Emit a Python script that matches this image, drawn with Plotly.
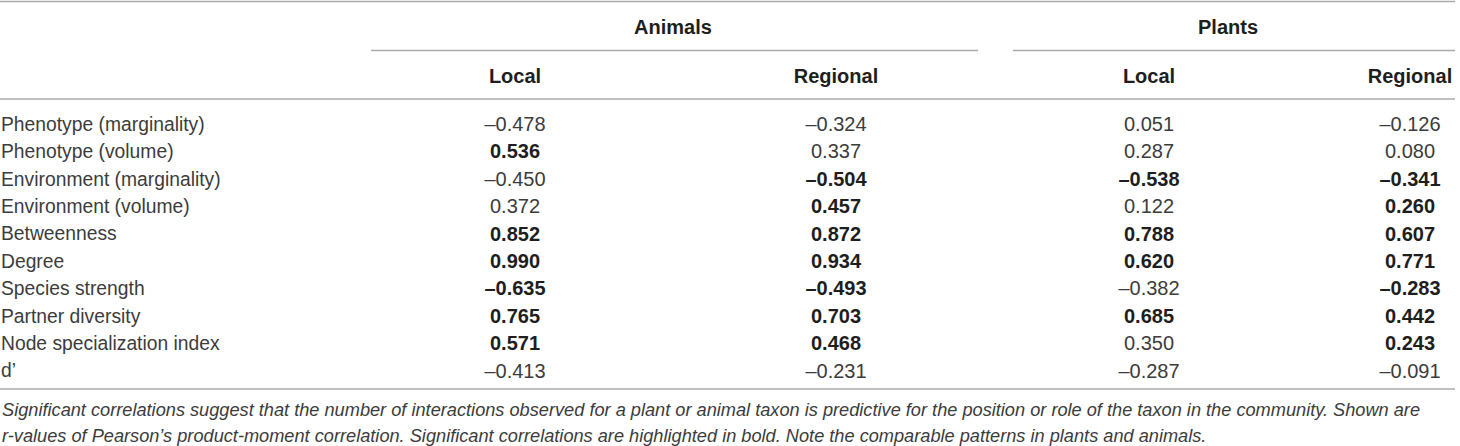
import plotly.graph_objects as go

# ---- data ----
row_labels = [
    "Phenotype (marginality)", "Phenotype (volume)", "Environment (marginality)",
    "Environment (volume)", "Betweenness", "Degree", "Species strength",
    "Partner diversity", "Node specialization index", "d’",
]
groups = ["Animals", "Plants"]
sub_headers = ["Local", "Regional", "Local", "Regional"]
animals_local = [-0.478, 0.536, -0.450, 0.372, 0.852, 0.990, -0.635, 0.765, 0.571, -0.413]
animals_regional = [-0.324, 0.337, -0.504, 0.457, 0.872, 0.934, -0.493, 0.703, 0.468, -0.231]
plants_local = [0.051, 0.287, -0.538, 0.122, 0.788, 0.620, -0.382, 0.685, 0.350, -0.287]
plants_regional = [-0.126, 0.080, -0.341, 0.260, 0.607, 0.771, -0.283, 0.442, 0.243, -0.091]
# significance (bold) flags
sig_animals_local = [0, 1, 0, 0, 1, 1, 1, 1, 1, 0]
sig_animals_regional = [0, 0, 1, 1, 1, 1, 1, 1, 1, 0]
sig_plants_local = [0, 0, 1, 0, 1, 1, 0, 1, 0, 0]
sig_plants_regional = [0, 0, 1, 1, 1, 1, 1, 1, 1, 0]
caption_lines = [
    "Significant correlations suggest that the number of interactions observed for a plant or animal taxon "
    "is predictive for the position or role of the taxon in the community. Shown are",
    "r-values of Pearson’s product-moment correlation. Significant correlations are highlighted in bold. "
    "Note the comparable patterns in plants and animals.",
]

# ---- layout constants ----
W, H = 1460, 446
FONT = "Liberation Sans, Arial, Helvetica, sans-serif"
FS_LABEL = 19.3
FS_NUM = 20
FS_CAP = 18.2
TXT = "#3c3c3c"
BOLD = "#1e1e1e"
LINE = "#aaaaaa"
col_x = [515, 836, 1149, 1410]
row_y0, row_dy = 126, 27.4
row_y = [row_y0 + i * row_dy for i in range(len(row_labels))]

def fmt(v):
    s = f"{abs(v):.3f}"
    return ("–" + s) if v < 0 else s

fig = go.Figure()

# row labels
fig.add_trace(go.Scatter(
    x=[1] * len(row_labels), y=row_y, mode="text", text=row_labels, cliponaxis=False,
    textposition="middle right", textfont=dict(family=FONT, size=FS_LABEL, color=TXT),
    hoverinfo="skip", showlegend=False))

cols = [animals_local, animals_regional, plants_local, plants_regional]
sigs = [sig_animals_local, sig_animals_regional, sig_plants_local, sig_plants_regional]
for cx, vals, sg in zip(col_x, cols, sigs):
    texts = [f"<b>{fmt(v)}</b>" if s else fmt(v) for v, s in zip(vals, sg)]
    colors = [BOLD if s else TXT for s in sg]
    fig.add_trace(go.Scatter(
        x=[cx] * len(vals), y=row_y, mode="text", text=texts, cliponaxis=False,
        textposition="middle center", textfont=dict(family=FONT, size=FS_NUM, color=colors),
        hoverinfo="skip", showlegend=False))

# sub headers
fig.add_trace(go.Scatter(
    x=col_x, y=[78] * 4, mode="text", text=[f"<b>{s}</b>" for s in sub_headers],
    cliponaxis=False, textposition="middle center",
    textfont=dict(family=FONT, size=FS_NUM, color=BOLD),
    hoverinfo="skip", showlegend=False))

# group headers
group_spans = [(371, 978), (1013, 1455)]
fig.add_trace(go.Scatter(
    x=[673, 1228], y=[29, 29], mode="text",
    text=[f"<b>{g}</b>" for g in groups], cliponaxis=False,
    textposition="middle center", textfont=dict(family=FONT, size=FS_NUM, color=BOLD),
    hoverinfo="skip", showlegend=False))

# rules
shapes = []
for y in [1.5, 99, 389]:
    shapes.append(dict(type="line", x0=0, x1=1455, y0=y, y1=y, xref="x", yref="y",
                       line=dict(color=LINE, width=1.5)))
for a, b in group_spans:
    shapes.append(dict(type="line", x0=a, x1=b, y0=50.5, y1=50.5, xref="x", yref="y",
                       line=dict(color=LINE, width=1.5)))

for yy, line in zip([409.5, 435.5], caption_lines):
    fig.add_annotation(x=0, y=yy, xref="x", yref="y", text=f"<i>{line}</i>",
                       showarrow=False, xanchor="left", yanchor="middle", align="left",
                       font=dict(family=FONT, size=FS_CAP, color=TXT))

fig.update_layout(
    width=W, height=H, margin=dict(l=0, r=0, t=0, b=0),
    paper_bgcolor="white", plot_bgcolor="white", shapes=shapes,
    xaxis=dict(range=[0, W], visible=False, fixedrange=True),
    yaxis=dict(range=[H, 0], visible=False, fixedrange=True),
)

fig.write_html("out.html", config={"displayModeBar": False},
               post_script="document.body.style.margin='0';")
